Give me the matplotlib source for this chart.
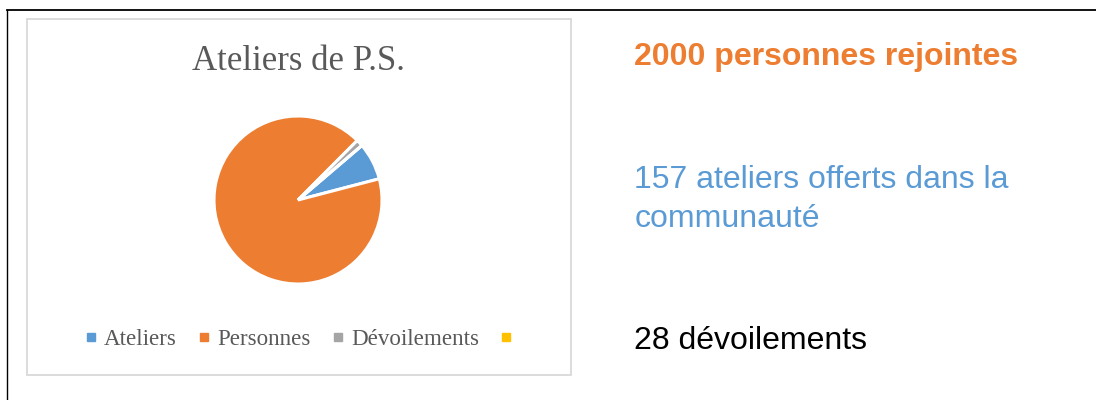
import matplotlib.pyplot as plt
from matplotlib.patches import Rectangle
from matplotlib.lines import Line2D

categories = ["Ateliers", "Personnes", "Dévoilements", ""]
values = [157, 2000, 28, 0]
colors = ["#5B9BD5", "#ED7D31", "#A5A5A5", "#FFC000"]

title = "Ateliers de P.S."
right_texts = ["2000 personnes rejointes",
               "157 ateliers offerts dans la",
               "communauté",
               "28 dévoilements"]
right_colors = ["#ED7D31", "#5B9BD5", "#5B9BD5", "#000000"]
right_weights = ["bold", "normal", "normal", "normal"]

W, H = 1096, 400
fig = plt.figure(figsize=(W / 100, H / 100), dpi=100)
fig.patch.set_facecolor("white")


def fx(px):
    return px / W


def fy(py):
    return 1 - py / H


# cadre de la diapo (haut et gauche)
fig.add_artist(Line2D([fx(7), 1], [fy(9.5), fy(9.5)], color="black", lw=1.3))
fig.add_artist(Line2D([fx(7), fx(7)], [fy(9.5), 0], color="black", lw=1.0))

# cadre du graphique
fig.add_artist(Rectangle((fx(27), fy(375)), fx(571) - fx(27), fy(19) - fy(375),
                         fill=False, edgecolor="#D9D9D9", lw=1.3))

# camembert
ax = fig.add_axes([fx(298 - 100), fy(200 + 100), 200 / W, 200 / H])
ax.pie(values, colors=colors, startangle=40.5, counterclock=False, radius=0.84,
       wedgeprops=dict(edgecolor="white", linewidth=2.2))
ax.set_xlim(-1, 1)
ax.set_ylim(-1, 1)
ax.set_aspect("equal")
ax.axis("off")

fig.text(fx(298), fy(70), title, ha="center", va="baseline",
         fontsize=25, family="Liberation Serif", color="#595959")

# légende
handles = [Line2D([], [], marker="s", linestyle="", markersize=6,
                  markerfacecolor=c, markeredgecolor=c) for c in colors]
fig.legend(handles, categories, loc="center", bbox_to_anchor=(fx(302), fy(339.5)),
           ncol=4, frameon=False, handlelength=0.55, handletextpad=0.3,
           columnspacing=0.9, prop=dict(family="Liberation Serif", size=16.6),
           labelcolor="#595959")

# texte à droite
baselines = [65, 188, 227, 349]
for txt, col, wt, yb in zip(right_texts, right_colors, right_weights, baselines):
    fig.text(fx(634.5), fy(yb), txt, color=col, fontweight=wt, fontsize=23,
             family="Liberation Sans", va="baseline")

fig.savefig("out.png", dpi=100)
